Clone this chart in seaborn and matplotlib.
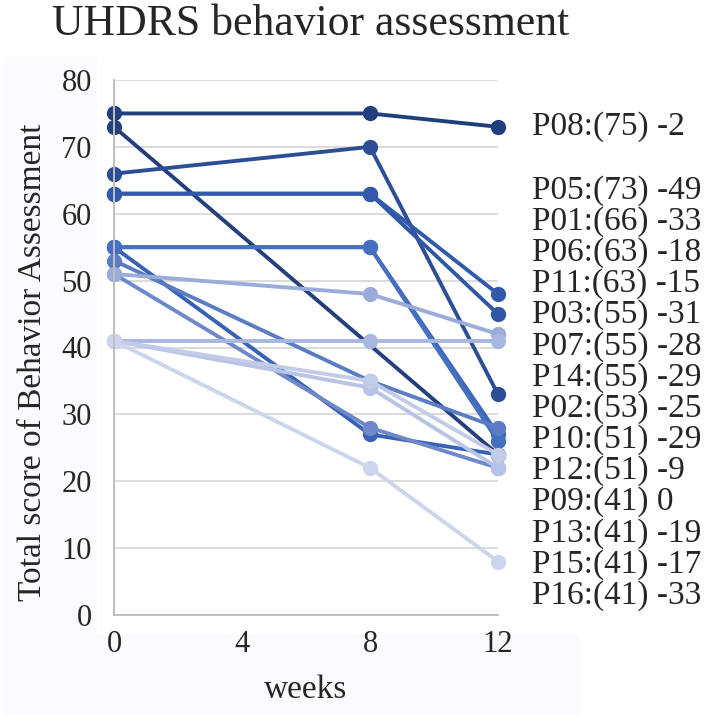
import numpy as np
import pandas as pd
import matplotlib
matplotlib.use("Agg")
import matplotlib.pyplot as plt
from matplotlib.patches import Rectangle
import seaborn as sns

# data (P04 is not in the chart)
patients = ["P08", "P05", "P01", "P06", "P11", "P03", "P07", "P14",
            "P02", "P10", "P12", "P09", "P13", "P15", "P16"]
weeks = [0, 8, 12]
week0 = [75, 73, 66, 63, 63, 55, 55, 55, 53, 51, 51, 41, 41, 41, 41]
week8 = [75, None, 70, 63, 63, 27, 55, 55, 35, 28, 48, 41, 34, 35, 22]
week12 = [73, 24, 33, 45, 48, 24, 27, 26, 28, 22, 42, 41, 22, 24, 8]

colors = ["#213f7c", "#243f7b", "#2b4e96", "#2f57a5", "#3259ab", "#3762b6",
          "#3e68bc", "#4570c2", "#5a7cc4", "#6d89c9", "#9aacda", "#a8b7df",
          "#b8c4e5", "#c2cce9", "#cdd5ec"]

rows = []
for p, a, b, c in zip(patients, week0, week8, week12):
    for w, v in zip(weeks, [a, b, c]):
        if v is not None:
            rows.append({"patient": p, "week": w, "score": v})
df = pd.DataFrame(rows)

sns.set_style("white")
plt.rcParams["font.family"] = ["Liberation Serif", "DejaVu Serif"]

W, H = 709, 722
fig = plt.figure(figsize=(W / 100, H / 100), dpi=100)
fig.patch.set_facecolor("white")
fig.patches.append(Rectangle((5 / W, 1 - 713 / H), 573 / W, 656 / H,
                             transform=fig.transFigure, color="#fafbfe", zorder=-2))
fig.patches.append(Rectangle((97 / W, 1 - 633 / H), 612 / W, 576 / H,
                             transform=fig.transFigure, color="white", zorder=-1))

x0, x1, ytop, ybot = 114, 498, 80, 615
ax = fig.add_axes([x0 / W, 1 - ybot / H, (x1 - x0) / W, (ybot - ytop) / H])
ax.set_facecolor("white")

sns.lineplot(data=df, x="week", y="score", hue="patient", hue_order=patients,
             palette=colors, estimator=None, sort=False, marker="o",
             markersize=11, markeredgewidth=0, linewidth=2.8,
             legend=False, clip_on=False, ax=ax)

ax.set_xlim(0, 12)
ax.set_ylim(0, 80)
ax.set_xticks([0, 4, 8, 12])
ax.set_yticks(range(0, 81, 10))
ax.yaxis.grid(True, color="#d9d9d9", linewidth=1.3)
ax.set_axisbelow(True)
for s in ["top", "right"]:
    ax.spines[s].set_visible(False)
for s in ["left", "bottom"]:
    ax.spines[s].set_color("#bfbfbf")
    ax.spines[s].set_linewidth(1.4)
ax.tick_params(axis="y", direction="out", length=7, width=1.3,
               color="#d9d9d9", pad=9, labelsize=22)
ax.tick_params(axis="x", direction="out", length=6, width=1.3,
               color="#bfbfbf", pad=5, labelsize=22)

ax.set_xlabel("weeks", fontsize=24, va="center")
ax.xaxis.set_label_coords(0.5, (ybot - 690) / (ybot - ytop))
ax.set_ylabel("Total score of Behavior Assessment", fontsize=24, va="center")
ax.yaxis.set_label_coords((33 - x0) / (x1 - x0), (ybot - 362) / (ybot - ytop))

fig.text(52 / W, 1 - 35 / H, "UHDRS behavior assessment", fontsize=31.5,
         va="baseline", ha="left")

# end labels: first at its own end value, the rest stacked below
label_y = [week12[0]] + list(63.5 - 4.66 * np.arange(len(patients) - 1))
for p, a, c, yy in zip(patients, week0, week12, label_y):
    ax.text(13.05, yy, f"{p}:({a}) {c - a}", fontsize=24, va="center",
            ha="left", clip_on=False)

fig.savefig("out.png", dpi=100)
